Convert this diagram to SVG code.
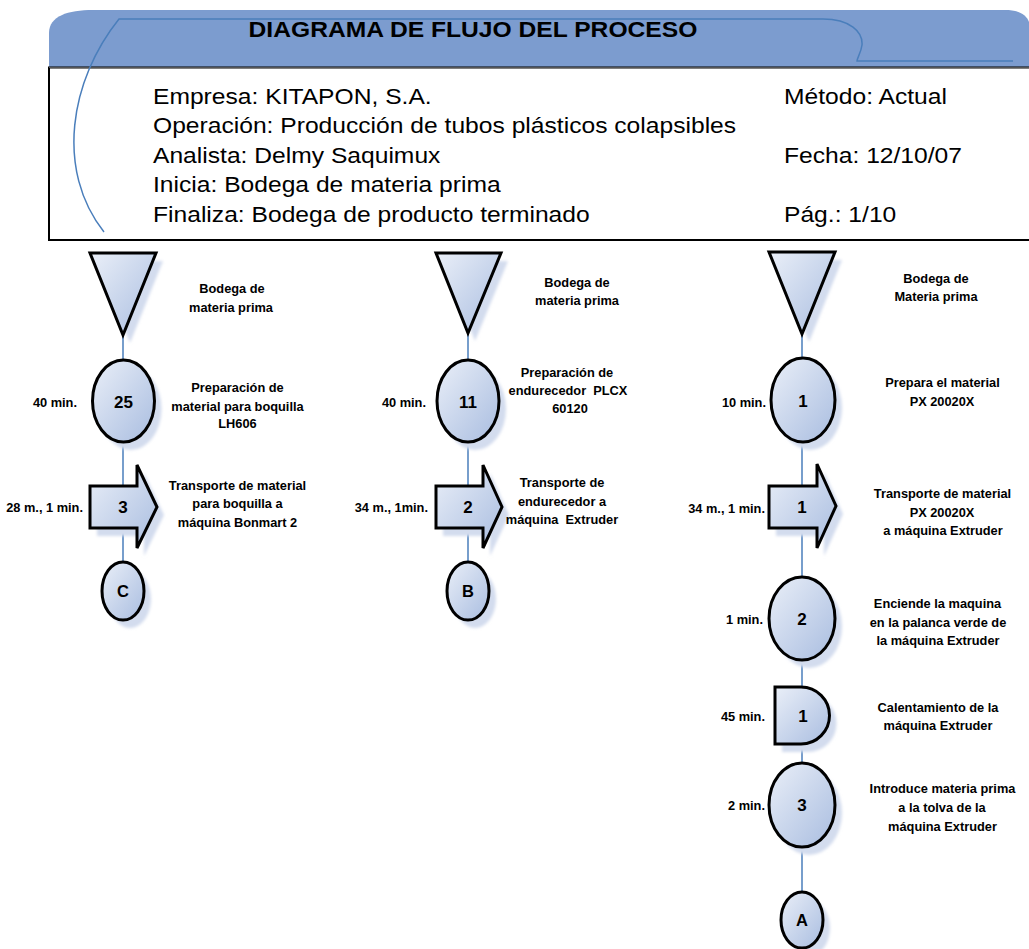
<svg xmlns="http://www.w3.org/2000/svg" width="1029" height="949" viewBox="0 0 1029 949">
  <defs>
    <linearGradient id="shapeFill" x1="0" y1="0" x2="1" y2="1">
      <stop offset="0" stop-color="#eaeff8"/>
      <stop offset="1" stop-color="#a9bde0"/>
    </linearGradient>
    <filter id="soft" x="-20%" y="-20%" width="140%" height="140%">
      <feGaussianBlur stdDeviation="1.5"/>
    </filter>
  </defs>
  <style>
    .shape { fill: url(#shapeFill); stroke: #000; stroke-width: 3; }
    .shadow { fill: #d3dcee; filter: url(#soft); }
    .conn { stroke: #4a7ebb; stroke-width: 1.5; fill: none; }
    .deco { stroke: #4a7ebb; stroke-width: 1.5; fill: none; }
    .num { font-family: "Liberation Sans", Arial, sans-serif; font-weight: bold; font-size: 17px; text-anchor: middle; fill: #000; }
    .ltr { font-size: 16.5px; }
    .lbl { font-family: "Liberation Sans", Arial, sans-serif; font-weight: bold; font-size: 12.8px; text-anchor: middle; fill: #000; }
    .time { font-family: "Liberation Sans", Arial, sans-serif; font-weight: bold; font-size: 12.8px; text-anchor: end; fill: #000; }
    .head { font-family: "Liberation Sans", Arial, sans-serif; font-size: 22px; fill: #000; }
    .title { font-family: "Liberation Sans", Arial, sans-serif; font-size: 22px; font-weight: bold; text-anchor: middle; fill: #000; }
  </style>

  <rect width="1029" height="949" fill="#fff"/>

  <!-- Header block -->
  <g id="header">
    <path d="M49,67 V33 C49,16 68,10 93,10 H1005 C1018,10 1026,14 1029,22 V67 Z" fill="#7c9ccf"/>
    <rect x="49" y="67.5" width="990" height="172.5" fill="#fff" stroke="#000" stroke-width="2"/>
    <line x1="49" y1="67.5" x2="1029" y2="67.5" stroke="#555" stroke-width="1.2"/>
    <path class="deco" d="M104,232 C55,170 70,80 119,19 H823 C850,19 863,32 862,45 C861,53 857,58 857,61 H1013"/>
    <g transform="matrix(1.12 0 0 1 0 0)">
      <text class="title" x="422.3" y="37">DIAGRAMA DE FLUJO DEL PROCESO</text>
      <text class="head" x="136.6" y="104">Empresa: KITAPON, S.A.</text>
      <text class="head" x="136.6" y="133.5">Operación: Producción de tubos plásticos colapsibles</text>
      <text class="head" x="136.6" y="163">Analista: Delmy Saquimux</text>
      <text class="head" x="136.6" y="192.5">Inicia: Bodega de materia prima</text>
      <text class="head" x="136.6" y="222">Finaliza: Bodega de producto terminado</text>
      <text class="head" x="700" y="104">Método: Actual</text>
      <text class="head" x="700" y="163">Fecha: 12/10/07</text>
      <text class="head" x="700" y="222">Pág.: 1/10</text>
    </g>
  </g>

  <!-- Flow lines between symbols -->
  <g id="connectors">
    <line class="conn" x1="123" y1="335" x2="123" y2="360"/>
    <line class="conn" x1="123" y1="442" x2="123" y2="486"/>
    <line class="conn" x1="123" y1="528" x2="123" y2="562"/>
    <line class="conn" x1="468" y1="333" x2="468" y2="360"/>
    <line class="conn" x1="468" y1="442" x2="468" y2="486"/>
    <line class="conn" x1="468" y1="528" x2="468" y2="562"/>
    <line class="conn" x1="802" y1="334" x2="802" y2="358"/>
    <line class="conn" x1="802" y1="442" x2="802" y2="486"/>
    <line class="conn" x1="802" y1="528" x2="802" y2="577"/>
    <line class="conn" x1="802" y1="660" x2="802" y2="687"/>
    <line class="conn" x1="802" y1="744" x2="802" y2="763"/>
    <line class="conn" x1="802" y1="847" x2="802" y2="892"/>
  </g>

  <!-- Column 1: nozzle material -->
  <g id="c1-storage">
    <polygon class="shadow" points="97,261 163,261 130,343"/>
    <polygon class="shape" points="90,253 156,253 123,335"/>
    <text class="lbl" x="232" y="293">Bodega de</text>
    <text class="lbl" x="231" y="311.5">materia prima</text>
  </g>
  <g id="c1-op25">
    <ellipse class="shadow" cx="130.5" cy="409" rx="31" ry="41"/>
    <ellipse class="shape" cx="123.5" cy="401" rx="31" ry="41"/>
    <text class="num" x="123.5" y="408">25</text>
    <text class="time" x="77" y="406.5">40 min.</text>
    <text class="lbl" x="237.5" y="391.5">Preparación de</text>
    <text class="lbl" x="237.5" y="410.5">material para boquilla</text>
    <text class="lbl" x="237.5" y="427.5">LH606</text>
  </g>
  <g id="c1-move3">
    <path class="shadow" d="M97,494 H144 V473 L164,515 L144,556 V536 H97 Z"/>
    <path class="shape" d="M90,486 H137 V465 L157,507 L137,548 V528 H90 Z"/>
    <text class="num" x="123" y="513">3</text>
    <text class="time" x="83" y="511.5">28 m., 1 min.</text>
    <text class="lbl" x="237.5" y="489.5">Transporte de material</text>
    <text class="lbl" x="237.5" y="507.5">para boquilla a</text>
    <text class="lbl" x="237.5" y="526.5">máquina Bonmart 2</text>
  </g>
  <g id="c1-linkC">
    <ellipse class="shadow" cx="130" cy="599" rx="21" ry="29"/>
    <ellipse class="shape" cx="123" cy="591" rx="21" ry="29"/>
    <text class="num ltr" x="123" y="597">C</text>
  </g>

  <!-- Column 2: hardener -->
  <g id="c2-storage">
    <polygon class="shadow" points="443,261 508,261 475,341"/>
    <polygon class="shape" points="436,253 501,253 468,333"/>
    <text class="lbl" x="577" y="286.5">Bodega de</text>
    <text class="lbl" x="577" y="304.5">materia prima</text>
  </g>
  <g id="c2-op11">
    <ellipse class="shadow" cx="475" cy="409" rx="31" ry="41"/>
    <ellipse class="shape" cx="468" cy="401" rx="31" ry="41"/>
    <text class="num" x="468" y="408">11</text>
    <text class="time" x="426" y="406.5">40 min.</text>
    <text class="lbl" x="567" y="376.5">Preparación de</text>
    <text class="lbl" x="568" y="394.5">endurecedor&#160; PLCX</text>
    <text class="lbl" x="570" y="412.5">60120</text>
  </g>
  <g id="c2-move2">
    <path class="shadow" d="M443,494 H490 V473 L509,515 L490,556 V536 H443 Z"/>
    <path class="shape" d="M436,486 H483 V465 L502,507 L483,548 V528 H436 Z"/>
    <text class="num" x="468" y="513">2</text>
    <text class="time" x="428" y="511.5">34 m., 1min.</text>
    <text class="lbl" x="562" y="486.5">Transporte de</text>
    <text class="lbl" x="562" y="505.5">endurecedor a</text>
    <text class="lbl" x="562" y="523.5">máquina&#160; Extruder</text>
  </g>
  <g id="c2-linkB">
    <ellipse class="shadow" cx="475" cy="599" rx="21" ry="29"/>
    <ellipse class="shape" cx="468" cy="591" rx="21" ry="29"/>
    <text class="num ltr" x="468" y="597">B</text>
  </g>

  <!-- Column 3: PX 20020X material -->
  <g id="c3-storage">
    <polygon class="shadow" points="776,260 842,260 809,342"/>
    <polygon class="shape" points="769,252 835,252 802,334"/>
    <text class="lbl" x="936" y="282.5">Bodega de</text>
    <text class="lbl" x="936" y="300.5">Materia prima</text>
  </g>
  <g id="c3-op1">
    <ellipse class="shadow" cx="810" cy="408" rx="32" ry="42"/>
    <ellipse class="shape" cx="803" cy="400" rx="32" ry="42"/>
    <text class="num" x="803" y="407">1</text>
    <text class="time" x="766" y="406.5">10 min.</text>
    <text class="lbl" x="942.5" y="386.5">Prepara el material</text>
    <text class="lbl" x="942" y="406">PX 20020X</text>
  </g>
  <g id="c3-move1">
    <path class="shadow" d="M776,494 H824 V472 L843,514 L824,556 V536 H776 Z"/>
    <path class="shape" d="M769,486 H817 V464 L836,506 L817,548 V528 H769 Z"/>
    <text class="num" x="802" y="513">1</text>
    <text class="time" x="765" y="512.5">34 m., 1 min.</text>
    <text class="lbl" x="942.5" y="497.5">Transporte de material</text>
    <text class="lbl" x="942" y="517">PX 20020X</text>
    <text class="lbl" x="943" y="534.5">a máquina Extruder</text>
  </g>
  <g id="c3-op2">
    <ellipse class="shadow" cx="809" cy="626.5" rx="33" ry="41.5"/>
    <ellipse class="shape" cx="802" cy="618.5" rx="33" ry="41.5"/>
    <text class="num" x="802" y="625">2</text>
    <text class="time" x="763" y="623.5">1 min.</text>
    <text class="lbl" x="937.5" y="607.5">Enciende la maquina</text>
    <text class="lbl" x="938" y="626.5">en la palanca verde de</text>
    <text class="lbl" x="938" y="644.5">la máquina Extruder</text>
  </g>
  <g id="c3-delay1">
    <path class="shadow" d="M782,695 H808 A28.5,28.5 0 0 1 808,752 H782 Z"/>
    <path class="shape" d="M775,687 H801 A28.5,28.5 0 0 1 801,744 H775 Z"/>
    <text class="num" x="803" y="722">1</text>
    <text class="time" x="765" y="720.5">45 min.</text>
    <text class="lbl" x="938" y="711.5">Calentamiento de la</text>
    <text class="lbl" x="938" y="729.5">máquina Extruder</text>
  </g>
  <g id="c3-op3">
    <ellipse class="shadow" cx="809" cy="813" rx="33" ry="42"/>
    <ellipse class="shape" cx="802" cy="805" rx="33" ry="42"/>
    <text class="num" x="802" y="811">3</text>
    <text class="time" x="765" y="809.5">2 min.</text>
    <text class="lbl" x="942.5" y="792.5">Introduce materia prima</text>
    <text class="lbl" x="942" y="811.5">a la tolva de la</text>
    <text class="lbl" x="942.5" y="830.5">máquina Extruder</text>
  </g>
  <g id="c3-linkA">
    <ellipse class="shadow" cx="809" cy="928" rx="21" ry="28"/>
    <ellipse class="shape" cx="802" cy="920" rx="21" ry="28"/>
    <text class="num ltr" x="802" y="926">A</text>
  </g>
</svg>
